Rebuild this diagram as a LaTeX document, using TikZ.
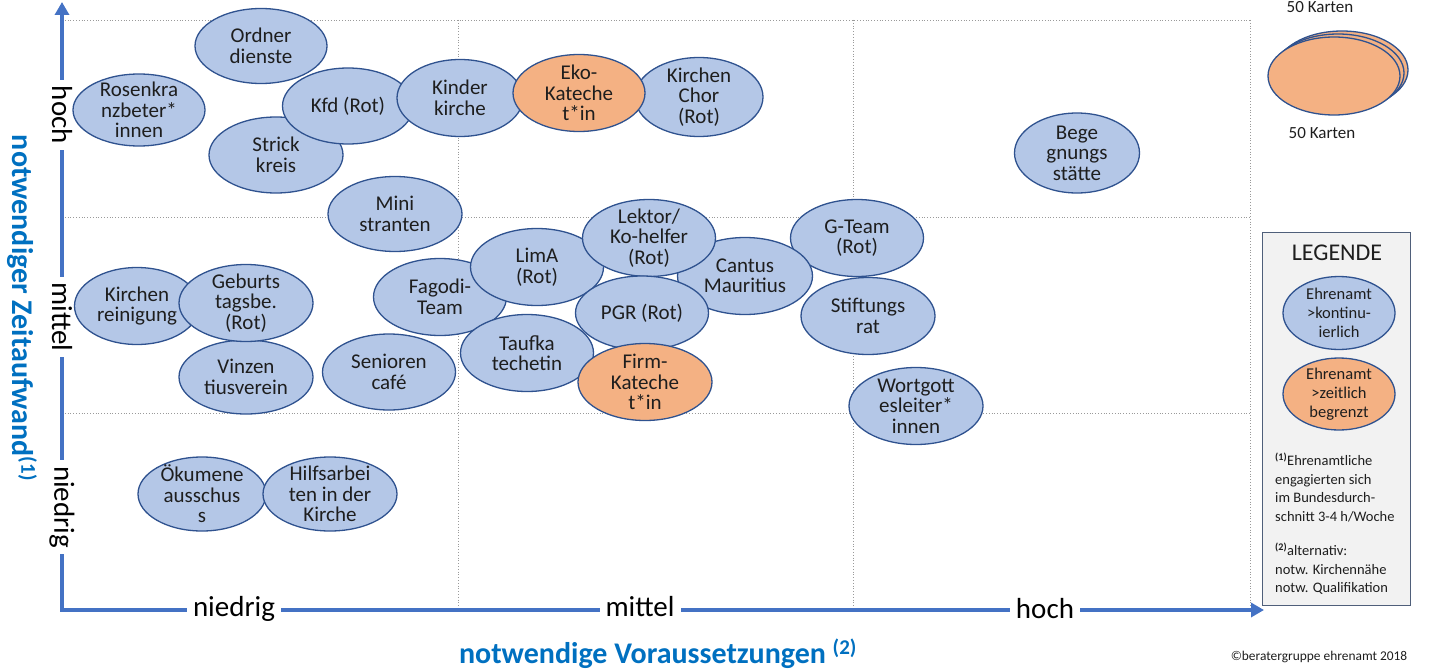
\documentclass[tikz,border=0pt]{standalone}
\usepackage{fontspec}
\setmainfont{Carlito}
\usetikzlibrary{shapes.geometric,arrows.meta}
\definecolor{bfill}{HTML}{B4C7E7}
\definecolor{ofill}{HTML}{F4B183}
\definecolor{edgec}{HTML}{2F528F}
\definecolor{axisc}{HTML}{4472C4}
\definecolor{ttlc}{HTML}{0070C0}
\definecolor{textc}{HTML}{1E1E1E}
\definecolor{gridc}{HTML}{9A9A9A}
\definecolor{legfill}{HTML}{F2F2F2}
\definecolor{legedge}{HTML}{4F5F7A}
\begin{document}
\begin{tikzpicture}[x=1pt,y=-1pt,
  bub/.style={ellipse,draw=edgec,line width=1.3pt,fill=bfill,inner sep=0pt,minimum width=133pt,minimum height=77pt},
  obub/.style={bub,fill=ofill},
  lab/.style={align=center,text=textc,font=\fontsize{21}{20.5}\selectfont,inner sep=0pt},
  slab/.style={align=center,text=textc,font=\fontsize{16.5}{19}\selectfont,inner sep=0pt},
  axlab/.style={fill=white,text=black,font=\fontsize{29}{30}\selectfont,inner xsep=6pt,inner ysep=2pt},
  ttl/.style={text=ttlc,font=\bfseries\fontsize{30}{32}\selectfont},
  gridline/.style={gridc,dotted,line width=0.8pt},
  axisline/.style={axisc,line width=4pt,{Triangle[width=14pt,length=13pt]}-{Triangle[width=14pt,length=13pt]}}
]
\useasboundingbox (0,0) rectangle (1429,669);
% grid
\draw[gridline] (62,20) -- (1250,20);
\draw[gridline] (62,217) -- (1250,217);
\draw[gridline] (62,413) -- (1250,413);
\draw[gridline] (458,20) -- (458,610);
\draw[gridline] (853,20) -- (853,610);
\draw[gridline] (1250,20) -- (1250,610);
% axes
\coordinate (ytip) at (62,2);
\coordinate (origin) at (62,610);
\coordinate (xtip) at (1264,610);
\draw[axisline] (ytip) -- (origin) -- (xtip);
\node[axlab,rotate=-90] (yhoch) at (62,115) {hoch};
\node[axlab,rotate=-90] (ymittel) at (62,317) {mittel};
\node[axlab,rotate=-90] (yniedrig) at (62,507) {niedrig};
\node[axlab] (xniedrig) at (234,609) {niedrig};
\node[axlab] (xmittel) at (640,607) {mittel};
\node[axlab] (xhoch) at (1045,609) {hoch};
\node[ttl,rotate=-90] (ytitle) at (22,308) {notwendiger Zeitaufwand\textsuperscript{(1)}};
\node[ttl] (xtitle) at (658,654) {notwendige Voraussetzungen \textsuperscript{(2)}};
\node[text=textc,font=\fontsize{13.4}{15}\selectfont] (copy) at (1319,657) {©beratergruppe ehrenamt 2018};
% bubbles
\node[bub,minimum width=132pt,minimum height=75pt,label={[lab]center:{Ordner\\dienste}}] (ordner) at (261,46) {};
\node[bub,minimum width=132pt,minimum height=72pt,label={[lab]center:{Rosenkra\\nzbeter*\\innen}}] (rosen) at (139,110) {};
\node[bub,minimum width=134pt,minimum height=76pt,label={[lab]center:{Strick\\kreis}}] (strick) at (276,155) {};
\node[bub,minimum width=131pt,minimum height=76pt,label={[lab]center:{Kfd (Rot)}}] (kfd) at (348,106) {};
\node[bub,minimum width=126pt,minimum height=77pt,label={[lab]center:{Kinder\\kirche}}] (kinder) at (460,98) {};
\node[bub,minimum width=128pt,minimum height=79pt,label={[lab]center:{Kirchen\\Chor\\(Rot)}}] (chor) at (699,97) {};
\node[obub,minimum width=132pt,minimum height=77pt,label={[lab]center:{Eko-\\Kateche\\t*in}}] (eko) at (579,93) {};
\node[bub,minimum width=134pt,minimum height=75pt,label={[lab]center:{Mini\\stranten}}] (mini) at (395,214) {};
\node[bub,minimum width=125pt,minimum height=80pt,label={[lab]center:{Bege\\gnungs\\stätte}}] (bege) at (1077,153) {};
\node[bub,minimum width=125pt,minimum height=77pt,label={[lab]center:{Kirchen\\reinigung}}] (reinig) at (137,306) {};
\node[bub,minimum width=134pt,minimum height=74pt,label={[lab]center:{Vinzen\\tiusverein}}] (vinzen) at (246,377) {};
\node[bub,minimum width=134pt,minimum height=77pt,label={[lab]center:{Geburts\\tagsbe.\\(Rot)}}] (geburt) at (246,303) {};
\node[bub,minimum width=133pt,minimum height=76pt,label={[lab]center:{Senioren\\café}}] (senior) at (389,372) {};
\node[bub,label={[lab]center:{Fagodi-\\Team}}] (fagodi) at (440,297) {};
\node[bub,label={[lab]center:{LimA\\(Rot)}}] (lima) at (537,267) {};
\node[bub,minimum width=133pt,label={[lab]center:{G-Team\\(Rot)}}] (gteam) at (857,238) {};
\node[bub,minimum width=135pt,label={[lab]center:{Cantus\\Mauritius}}] (cantus) at (745,276) {};
\node[bub,label={[lab]center:{Lektor/\\Ko-helfer\\(Rot)}}] (lektor) at (649,238) {};
\node[bub,minimum height=74pt,label={[lab]center:{PGR (Rot)}}] (pgr) at (642,313) {};
\node[bub,label={[lab]center:{Taufka\\techetin}}] (taufka) at (527,353) {};
\node[obub,minimum width=134pt,label={[lab]center:{Firm-\\Kateche\\t*in}}] (firm) at (645,382) {};
\node[bub,minimum width=134pt,label={[lab]center:{Stiftungs\\rat}}] (stift) at (868,316) {};
\node[bub,minimum width=134pt,label={[lab]center:{Wortgott\\esleiter*\\innen}}] (wort) at (916,406) {};
\node[bub,minimum width=128pt,minimum height=74pt,label={[lab]center:{Ökumene\\ausschus\\s}}] (oekum) at (202,494) {};
\node[bub,minimum width=134pt,minimum height=74pt,label={[lab]center:{Hilfsarbei\\ten in der\\Kirche}}] (hilfs) at (330,494) {};
% card stack
\node[obub,minimum width=132pt,minimum height=78pt] (card3) at (1342,70) {};
\node[obub,minimum width=132pt,minimum height=78pt] (card2) at (1338,73) {};
\node[obub,minimum width=132pt,minimum height=78pt] (card1) at (1334,76) {};
\node[text=textc,font=\fontsize{17}{19}\selectfont,inner sep=0pt,anchor=north] (ktop) at (1320,1) {50 Karten};
\node[text=textc,font=\fontsize{17}{19}\selectfont] (kbot) at (1322,133) {50 Karten};
% legend
\node[draw=legedge,fill=legfill,line width=1.3pt,inner sep=0pt,minimum width=148pt,minimum height=373pt,anchor=north west] (legend) at (1262,232) {};
\node[text=textc,font=\fontsize{24}{26}\selectfont] (legtitle) at (1337,253) {LEGENDE};
\node[bub,minimum width=112pt,minimum height=73pt,label={[slab]center:{Ehrenamt\\>kontinu-\\ierlich}}] (legblue) at (1339,313) {};
\node[obub,minimum width=112pt,minimum height=72pt,label={[slab]center:{Ehrenamt\\>zeitlich\\begrenzt}}] (legorange) at (1339,394) {};
\node[align=left,anchor=north west,text=textc,inner sep=0pt,font=\fontsize{14.5}{18.5}\selectfont] (notes) at (1275,453)
  {\textsuperscript{\bfseries(1)}Ehrenamtliche\\engagierten sich\\im Bundesdurch-\\schnitt 3-4 h/Woche\\[16pt]\textsuperscript{\bfseries(2)}alternativ:\\notw. Kirchennähe\\notw. Qualifikation};
\end{tikzpicture}
\end{document}
